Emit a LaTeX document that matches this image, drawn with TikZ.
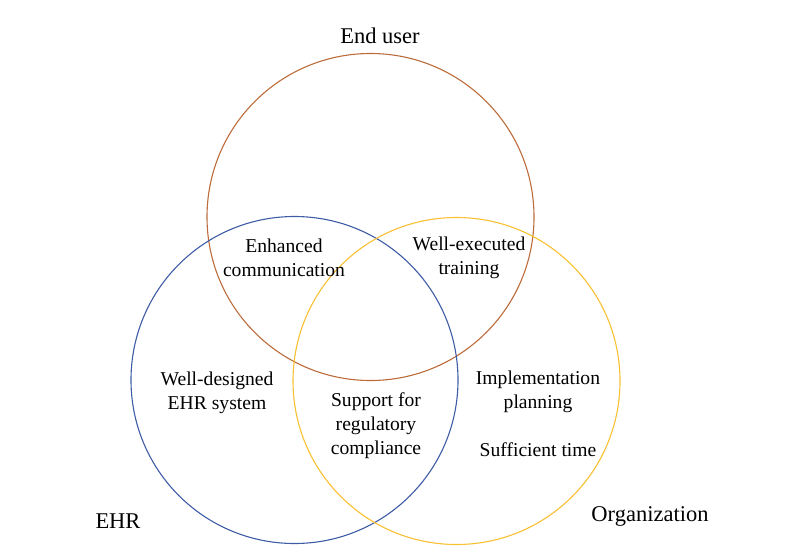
\documentclass[tikz,border=0pt]{standalone}
\usepackage{fontspec}
\setmainfont{Liberation Serif}
\usetikzlibrary{positioning}
\definecolor{userbrown}{RGB}{188,108,58}
\definecolor{ehrblue}{RGB}{62,92,165}
\definecolor{orggold}{RGB}{248,192,50}

\begin{document}
\begin{tikzpicture}[x=1pt,y=-1pt,
    ring/.style={line width=1.1pt},
    setname/.style={font=\fontsize{22.5}{26}\selectfont},
    factor/.style={font=\fontsize{19.6}{24}\selectfont,align=center}]
      \useasboundingbox (0,0) rectangle (800,557);
      % three sets
      \draw[ring,userbrown] (370.5,217) circle[radius=163.5pt];
      \draw[ring,ehrblue] (294.5,380) circle[radius=163.5pt];
      \draw[ring,orggold] (456.5,381) circle[radius=163.5pt];
      % set names
      \node[setname] (enduser) at (380,36) {End user};
      \node[setname] (ehr) at (118,521) {EHR};
      \node[setname] (org) at (650,516) {Organization};
      % factors
      \node[factor] (enhcomm) at (284,258) {Enhanced\\communication};
      \node[factor] (welltrain) at (469,258) {Well-executed\\training};
      \node[factor] (welldesign) at (217,393) {Well-designed\\EHR system};
      \node[factor] (support) at (376,426) {Support for\\regulatory\\compliance};
      \node[factor] (implplan) at (538,392) {Implementation\\planning};
      \node[factor] (sufftime) at (538,450) {Sufficient time};
    \end{tikzpicture}
\end{document}
